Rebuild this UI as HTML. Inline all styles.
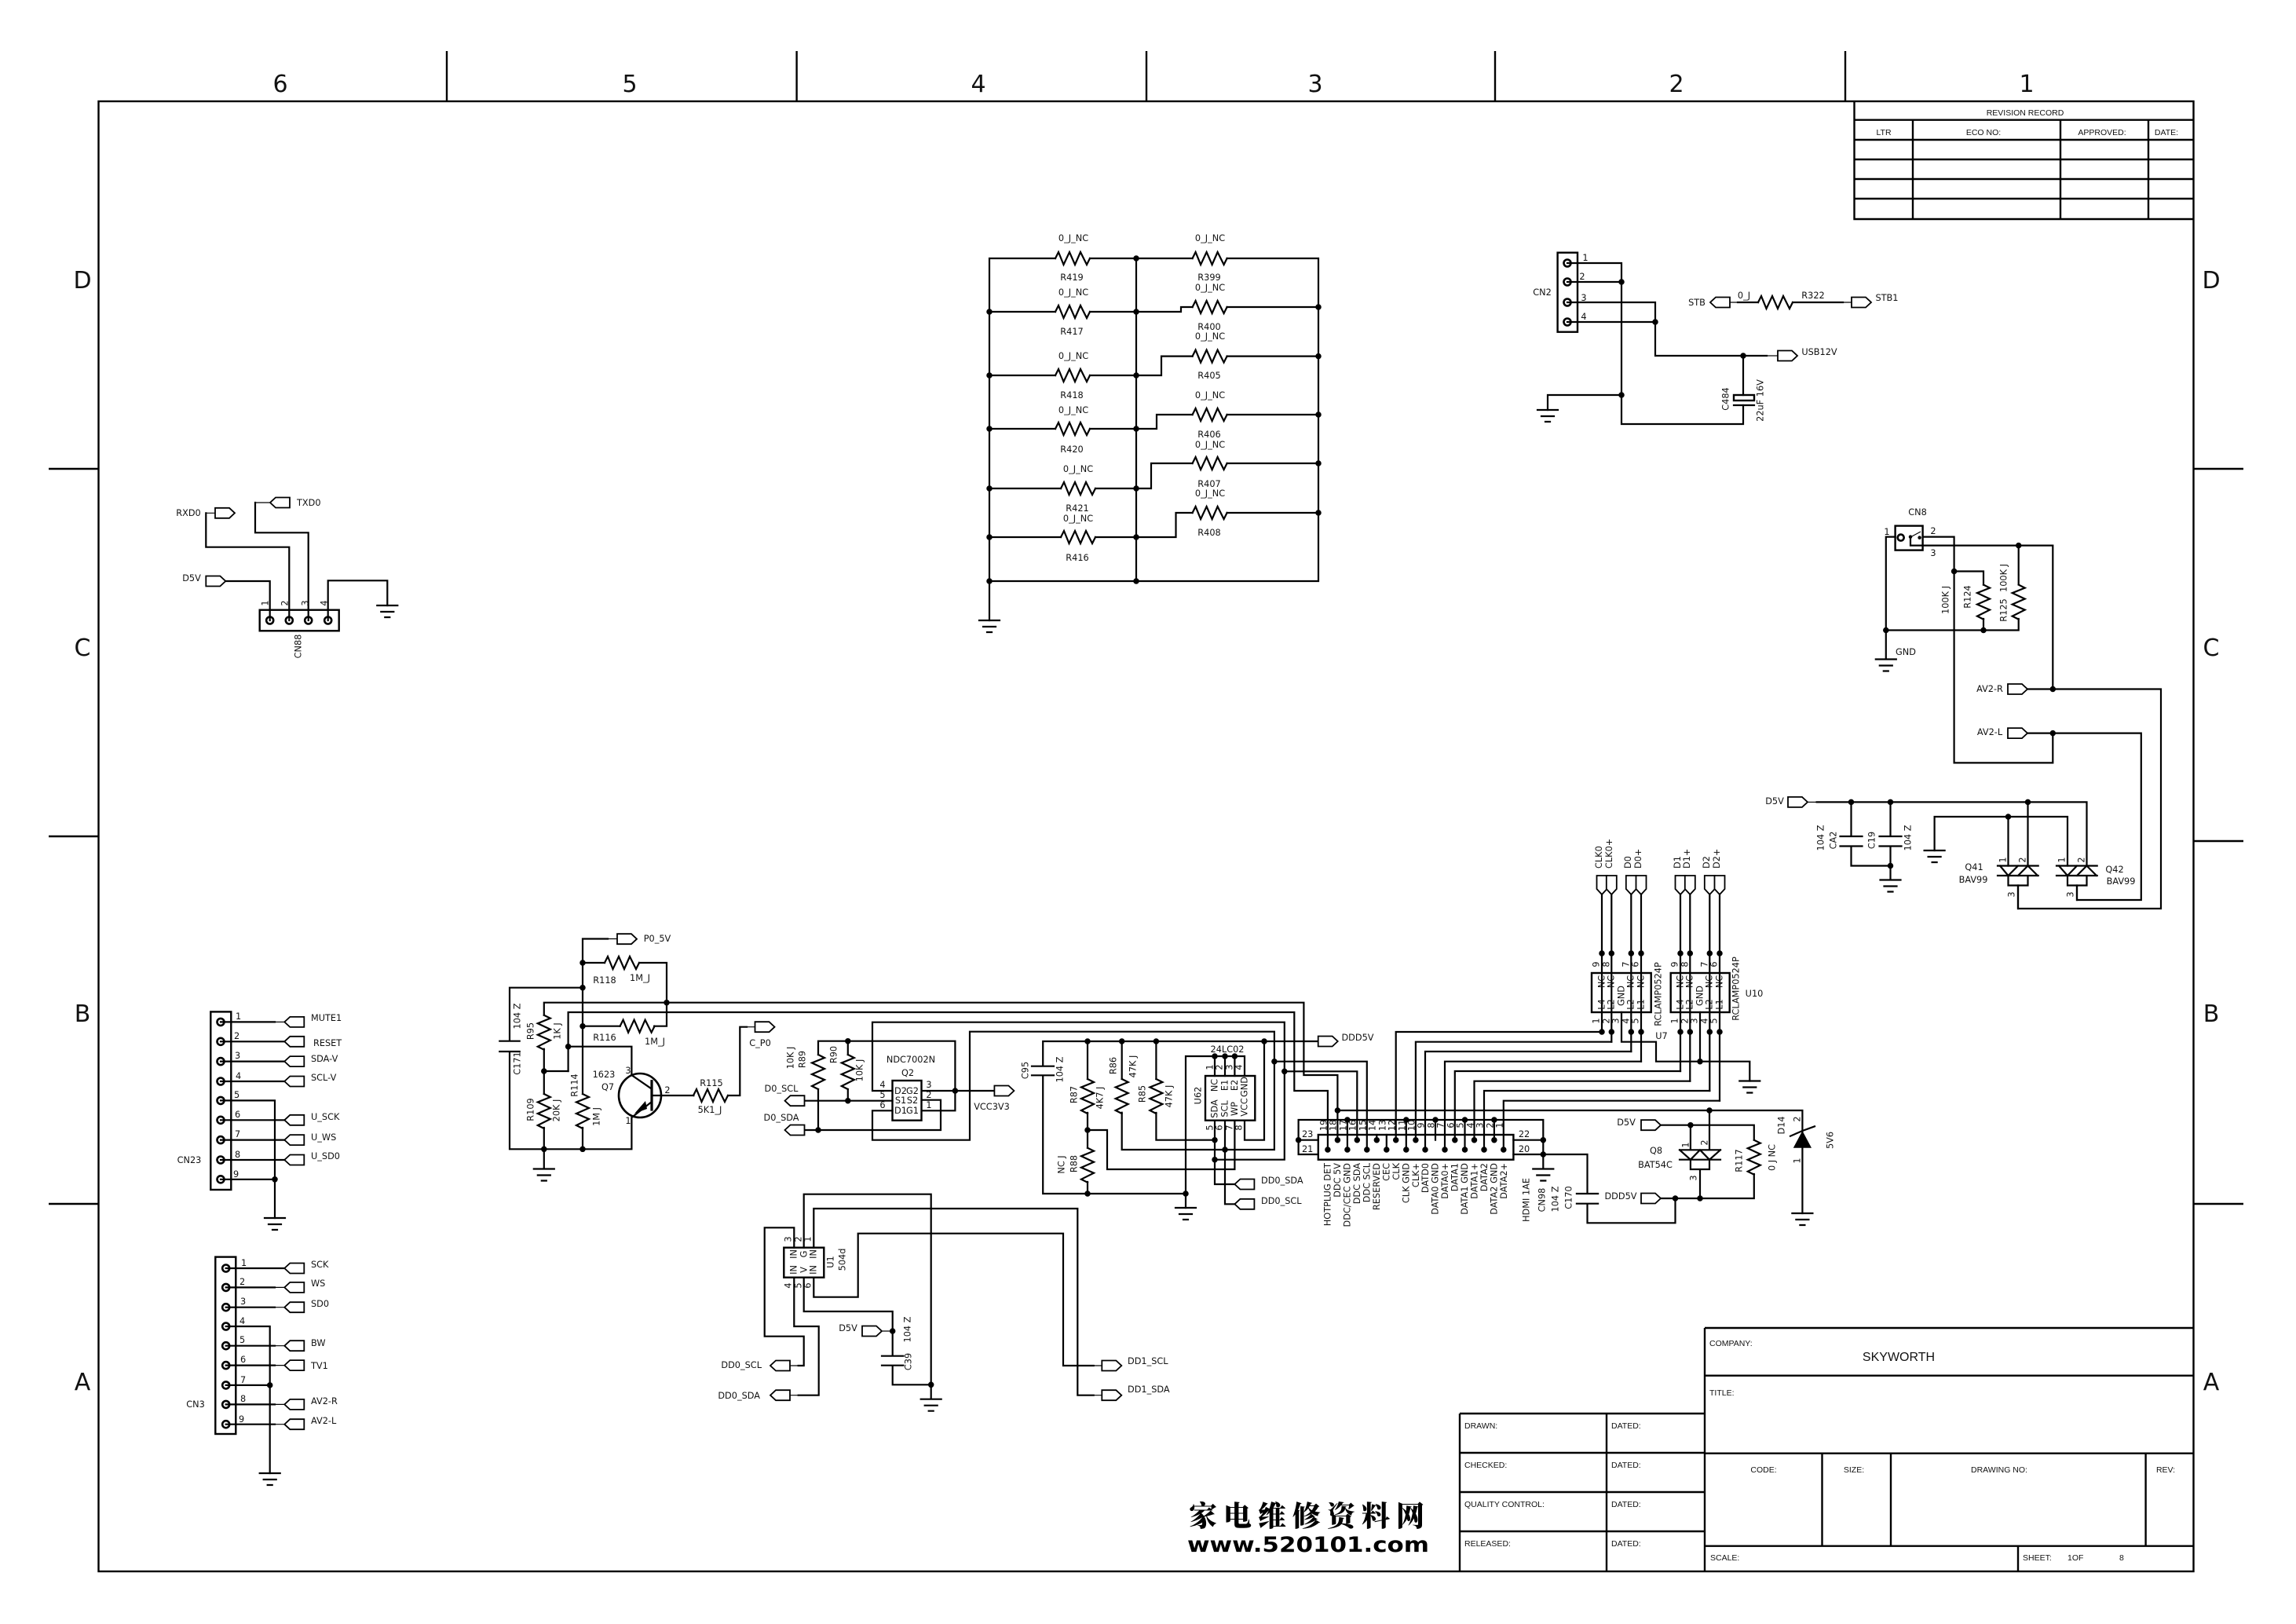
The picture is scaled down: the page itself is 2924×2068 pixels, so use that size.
<!DOCTYPE html>
<html><head><meta charset="utf-8"><title>Schematic</title>
<style>
html,body{margin:0;padding:0;background:#fff}
svg{display:block}
text{font-family:"DejaVu Sans","Liberation Sans",sans-serif;font-size:11.3px;fill:#111}
.m{text-anchor:middle}
.e{text-anchor:end}
.c{text-anchor:middle;dominant-baseline:central}
.w{fill:none;stroke:#000;stroke-width:2.2;stroke-linecap:square}
.t{fill:none;stroke:#000;stroke-width:1.2}
.d{fill:none;stroke:#000;stroke-width:7.5;stroke-linecap:round}
.f{fill:none;stroke:#000;stroke-width:2.4}
.p{fill:#fff;stroke:#000;stroke-width:1.8}
.b{fill:none;stroke:#000;stroke-width:2.4}
.z{font-size:30px}
.l{font-family:"Liberation Sans",sans-serif;font-size:10.5px}
</style></head><body>
<svg xmlns="http://www.w3.org/2000/svg" width="2924" height="2068" viewBox="0 0 2924 2068">
<defs>
<path id="R" class="w" d="M0 0L4 -8L10.5 8L18 -8L25 8L32 -8L40 8L44 0"/>
<path id="G" class="w" d="M-13 0H13M-8 8H8M-3 15H3"/>
<path id="PR" class="p" d="M0 -6.5H18L25 0L18 6.5H0Z"/>
<path id="PL" class="p" d="M25 -6.5H7L0 0L7 6.5H25Z"/>
<path id="PD" class="p" d="M-6.5 0V17L0 24L6.5 17V0Z"/>
<circle id="C" cx="0" cy="0" r="4.5" fill="#fff" stroke="#000" stroke-width="2.6"/>
</defs>
<rect width="2924" height="2068" fill="#fff"/>

<!-- frame -->
<rect x="125.5" y="129" width="2668" height="1872" class="f"/>
<path class="f" d="M569 65V129M1014.6 65V129M1460 65V129M1904 65V129M2350 65V129M62 597H125M62 1065H125M62 1533H125M2794 597H2857M2794 1071H2857M2794 1533H2857"/>
<g class="m">
<text class="z m" x="357" y="117">6</text><text class="z m" x="802" y="117">5</text><text class="z m" x="1246" y="117">4</text><text class="z m" x="1675" y="117">3</text><text class="z m" x="2135" y="117">2</text><text class="z m" x="2581" y="117">1</text>
<text class="z m" x="105" y="367">D</text><text class="z m" x="105" y="835">C</text><text class="z m" x="105" y="1301">B</text><text class="z m" x="105" y="1770">A</text>
<text class="z m" x="2816" y="367">D</text><text class="z m" x="2816" y="835">C</text><text class="z m" x="2816" y="1301">B</text><text class="z m" x="2816" y="1770">A</text>
</g>

<!-- revision table -->
<path class="f" d="M2361.5 129V279H2794M2361.5 152.7H2794M2361.5 178H2794M2361.5 203H2794M2361.5 228H2794M2361.5 253H2794M2436 152.7V279M2624 152.7V279M2736 152.7V279"/>
<text class="l m" x="2579" y="147">REVISION RECORD</text>
<text class="l m" x="2399" y="172">LTR</text><text class="l m" x="2526" y="172">ECO NO:</text><text class="l m" x="2677" y="172">APPROVED:</text><text class="l m" x="2759" y="172">DATE:</text>

<!-- title block -->
<path class="f" d="M2171 1691H2794M2171 1691V2001M2171 1751.7H2794M2171 1850.7H2794M2171 1968.7H2794M2320.5 1850.7V1968.7M2408 1850.7V1968.7M2732.6 1850.7V1968.7M2570 1968.7V2001M1859 1800H2171M1859 1850H2171M1859 1900H2171M1859 1950H2171M1859 1800V2001M2046 1800V2001"/>
<text class="l" x="2177" y="1714">COMPANY:</text>
<text class="m" style="font-family:'Liberation Sans',sans-serif;font-size:16px" x="2418" y="1733">SKYWORTH</text>
<text class="l" x="2177" y="1777">TITLE:</text>
<text class="l m" x="2246" y="1875">CODE:</text><text class="l m" x="2361" y="1875">SIZE:</text><text class="l m" x="2546" y="1875">DRAWING NO:</text><text class="l m" x="2758" y="1875">REV:</text>
<text class="l" x="2178" y="1987">SCALE:</text><text class="l" x="2576" y="1987">SHEET:</text><text class="l" x="2633" y="1987">1OF</text><text class="l" x="2699" y="1987">8</text>
<text class="l" x="1865" y="1819">DRAWN:</text><text class="l" x="1865" y="1869">CHECKED:</text><text class="l" x="1865" y="1919">QUALITY CONTROL:</text><text class="l" x="1865" y="1969">RELEASED:</text>
<text class="l" x="2052" y="1819">DATED:</text><text class="l" x="2052" y="1869">DATED:</text><text class="l" x="2052" y="1919">DATED:</text><text class="l" x="2052" y="1969">DATED:</text>

<!-- watermark -->
<text x="1514" y="1943" textLength="300" lengthAdjust="spacing" style="font-family:'Noto Serif CJK SC',serif;font-size:36px;font-weight:900;fill:#000">家电维修资料网</text>
<text x="1512" y="1976" textLength="308" lengthAdjust="spacingAndGlyphs" style="font-family:'DejaVu Sans',sans-serif;font-size:27px;font-weight:bold;fill:#000">www.520101.com</text>

<!-- resistor block -->
<path class="w" d="M1260 329H1344M1388 329H1518.6M1562.6 329H1679V740H1260M1260 329V790M1447 329V740
M1260 397H1344M1388 397H1447H1504V391H1518.6M1562.6 391H1679
M1260 478H1344M1388 478H1447H1479V453.6H1518.6M1562.6 453.6H1679
M1260 546H1344M1388 546H1447H1473V528H1518.6M1562.6 528H1679
M1260 622H1351M1395 622H1447H1466V590H1518.6M1562.6 590H1679
M1260 684H1351M1395 684H1447H1497.5V653H1518.6M1562.6 653H1679"/>
<use href="#R" x="1344" y="329"/><use href="#R" x="1344" y="397"/><use href="#R" x="1344" y="478"/><use href="#R" x="1344" y="546"/><use href="#R" x="1351" y="622"/><use href="#R" x="1351" y="684"/>
<use href="#R" x="1518.6" y="329"/><use href="#R" x="1518.6" y="391"/><use href="#R" x="1518.6" y="453.6"/><use href="#R" x="1518.6" y="528"/><use href="#R" x="1518.6" y="590"/><use href="#R" x="1518.6" y="653"/>
<path class="d" d="M1447 329h0M1260 397h0M1447 397h0M1260 478h0M1447 478h0M1260 546h0M1447 546h0M1260 622h0M1447 622h0M1260 684h0M1447 684h0M1260 740h0M1447 740h0M1679 391h0M1679 453.6h0M1679 528h0M1679 590h0M1679 653h0"/>
<use href="#G" x="1260" y="790"/>
<g class="lbl">
<text class="m" x="1367" y="307">0_J_NC</text><text class="m" x="1365" y="357">R419</text>
<text class="m" x="1367" y="376">0_J_NC</text><text class="m" x="1365" y="426">R417</text>
<text class="m" x="1367" y="457">0_J_NC</text><text class="m" x="1365" y="507">R418</text>
<text class="m" x="1367" y="526">0_J_NC</text><text class="m" x="1365" y="576">R420</text>
<text class="m" x="1373" y="601">0_J_NC</text><text class="m" x="1372" y="651">R421</text>
<text class="m" x="1373" y="664">0_J_NC</text><text class="m" x="1372" y="714">R416</text>
<text class="m" x="1541" y="307">0_J_NC</text><text class="m" x="1540" y="357">R399</text>
<text class="m" x="1541" y="370">0_J_NC</text><text class="m" x="1540" y="420">R400</text>
<text class="m" x="1541" y="432">0_J_NC</text><text class="m" x="1540" y="482">R405</text>
<text class="m" x="1541" y="507">0_J_NC</text><text class="m" x="1540" y="557">R406</text>
<text class="m" x="1541" y="570">0_J_NC</text><text class="m" x="1540" y="620">R407</text>
<text class="m" x="1541" y="632">0_J_NC</text><text class="m" x="1540" y="682">R408</text>
</g>

<!-- CN2 -->
<rect x="1983.6" y="321.7" width="25.4" height="101" class="b" fill="none"/>
<use href="#C" x="1996" y="335"/><use href="#C" x="1996" y="359"/><use href="#C" x="1996" y="385"/><use href="#C" x="1996" y="410"/>
<path class="w" d="M1996 335H2065V540H2220V516M1996 359H2065M1996 385H2108V453H2250M1996 410H2108M2220 453V503M2065 503H1971V522"/>
<path class="t" d="M2250 453H2264"/>
<use href="#PR" x="2264" y="453"/>
<path class="d" d="M2065 359h0M2108 410h0M2220 453h0M2065 503h0"/>
<rect x="2208" y="503" width="26" height="7" class="b"/>
<path class="w" d="M2208 516H2234"/>
<use href="#G" x="1971" y="522"/>
<text class="m" x="2019" y="332">1</text><text class="m" x="2015" y="356">2</text><text class="m" x="2017" y="383">3</text><text class="m" x="2017" y="407">4</text>
<text class="m" x="1964" y="376">CN2</text>
<text class="c" transform="translate(2198 508) rotate(-90)">C484</text>
<text class="c" transform="translate(2242 510) rotate(-90)">22uF 16V</text>
<text class="m" x="2317" y="452">USB12V</text>
<!-- STB -->
<path class="t" d="M2202 385H2213M2347 385H2358"/>
<path class="w" d="M2213 385H2239M2283 385H2347"/>
<use href="#R" x="2239" y="385"/>
<use href="#PL" x="2178" y="385"/><use href="#PR" x="2358" y="385"/>
<text class="m" x="2161" y="389">STB</text><text class="m" x="2403" y="383">STB1</text><text class="m" x="2221" y="380">0_J</text><text class="m" x="2309" y="380">R322</text>

<!-- CN8 -->
<rect x="2413.6" y="669.6" width="35" height="31" class="b"/>
<circle cx="2420.7" cy="684.6" r="4" fill="#fff" stroke="#000" stroke-width="2.6"/>
<path class="w" d="M2413.6 683.6H2401.8V839M2401.8 802.5H2570.7V788M2570.7 744V694.6M2448.6 683.6H2488.6V971.4H2614.3V933.6M2488.6 727.5H2526V744.6M2526 788V802.5M2433 683.6V694.6H2614.3V877.5M2583 877.5H2752V1157H2570V1127.5M2583 933.6H2726.8V1146H2645V1127.5"/>
<path class="t" d="M2433 684L2446 677"/>
<path class="d" style="stroke-width:4.5" d="M2433 683.6h0M2444.6 684.6h0"/>
<use href="#R" transform="translate(2526 744.6) rotate(90)"/>
<use href="#R" transform="translate(2570.7 744.6) rotate(90)"/>
<path class="d" d="M2401.8 802.5h0M2526 802.5h0M2488.6 727.5h0M2570.7 694.6h0M2614.3 877.5h0M2614.3 933.6h0"/>
<use href="#G" x="2401.8" y="839.5"/>
<use href="#PR" x="2557" y="877.5"/><use href="#PR" x="2557" y="933.6"/>
<text class="m" x="2442" y="656">CN8</text><text class="m" x="2403" y="681">1</text><text class="m" x="2462" y="680">2</text><text class="m" x="2462" y="708">3</text><text class="m" x="2427" y="834">GND</text>
<text class="c" transform="translate(2506 760) rotate(-90)">R124</text>
<text class="c" transform="translate(2478 764) rotate(-90)">100K J</text>
<text class="c" transform="translate(2552 777) rotate(-90)">R125</text>
<text class="c" transform="translate(2552 736) rotate(-90)">100K J</text>
<text class="m" x="2534" y="881">AV2-R</text><text class="m" x="2534" y="936">AV2-L</text>

<!-- 5V / Q41 Q42 -->
<use href="#PR" x="2277" y="1021.4"/>
<path class="t" d="M2302 1021.4H2313.6"/>
<path class="w" d="M2313.6 1021.4H2657.5V1102.5M2582.5 1021.4V1102.5M2357.5 1021.4V1065M2407.5 1021.4V1065M2357.5 1077.5V1102.5H2407.5V1120M2407.5 1077.5V1102.5M2343.5 1065H2371.5M2343.5 1077.5H2371.5M2393.5 1065H2421.5M2393.5 1077.5H2421.5M2463.6 1083V1040H2633V1102.5M2557.5 1040V1102.5"/>
<path class="d" d="M2357.5 1021.4h0M2407.5 1021.4h0M2582.5 1021.4h0M2557.5 1040h0M2407.5 1102.5h0"/>
<use href="#G" x="2407.5" y="1120.5"/><use href="#G" x="2463.6" y="1083"/>
<path class="w" d="M2544 1102.5H2595.7M2544 1115H2595.7M2547 1102.5L2557.5 1115L2570 1102.5M2570 1115L2582.5 1102.5L2595 1115M2557.5 1115V1127.5H2582.5V1115M2570 1127.5V1157
M2619 1102.5H2670.7M2619 1115H2670.7M2622 1102.5L2633 1115L2645 1102.5M2645 1115L2657.5 1102.5L2670 1115M2633 1115V1127.5H2657.5V1115M2645 1127.5V1146"/>
<text class="m" x="2514" y="1108">Q41</text><text class="m" x="2513" y="1124">BAV99</text><text class="m" x="2693" y="1111">Q42</text><text class="m" x="2701" y="1126">BAV99</text>
<text class="c" transform="translate(2551 1095) rotate(-90)">1</text><text class="c" transform="translate(2576 1095) rotate(-90)">2</text><text class="c" transform="translate(2626 1095) rotate(-90)">1</text><text class="c" transform="translate(2651 1095) rotate(-90)">2</text>
<text class="c" transform="translate(2562 1139) rotate(-90)">3</text><text class="c" transform="translate(2637 1139) rotate(-90)">3</text>
<text class="m" x="2260" y="1024">D5V</text>
<text class="c" transform="translate(2335 1070) rotate(-90)">CA2</text><text class="c" transform="translate(2319 1067) rotate(-90)">104 Z</text><text class="c" transform="translate(2384 1070) rotate(-90)">C19</text><text class="c" transform="translate(2430 1067) rotate(-90)">104 Z</text>

<!-- CN88 -->
<rect x="330.7" y="776.7" width="101" height="26.6" class="b"/>
<use href="#C" x="343.7" y="790"/><use href="#C" x="368.3" y="790"/><use href="#C" x="392.7" y="790"/><use href="#C" x="417.7" y="790"/>
<path class="w" d="M287 740H343.7V790M262.3 653.3V696.7H368.3V790M325 640V678.3H392.7V790M417.7 790V739.3H493.3V771"/>
<path class="t" d="M262.3 653.3H274M325 640H344"/>
<use href="#PR" x="262.3" y="740"/><use href="#PR" x="274" y="653.3"/><use href="#PL" x="344" y="640"/>
<use href="#G" x="493.3" y="771"/>
<text class="m" x="240" y="657">RXD0</text><text x="378" y="644">TXD0</text><text class="m" x="244" y="740">D5V</text>
<text class="c" transform="translate(380 823) rotate(-90)">CN88</text>
<text class="c" transform="translate(338 768) rotate(-90)">1</text><text class="c" transform="translate(363 768) rotate(-90)">2</text><text class="c" transform="translate(389 768) rotate(-90)">3</text><text class="c" transform="translate(413 768) rotate(-90)">4</text>

<!-- CN23 -->
<rect x="268.3" y="1288.4" width="26" height="226.6" class="b"/>
<g>
<use href="#C" x="281" y="1301.4"/><use href="#C" x="281" y="1326.3"/><use href="#C" x="281" y="1351.6"/><use href="#C" x="281" y="1377"/><use href="#C" x="281" y="1401.4"/><use href="#C" x="281" y="1426.3"/><use href="#C" x="281" y="1451.6"/><use href="#C" x="281" y="1477"/><use href="#C" x="281" y="1501.8"/>
</g>
<path class="w" d="M281 1301.4H350M281 1326.3H362M281 1351.6H362M281 1377H362M281 1401.4H350V1551M281 1426.3H362M281 1451.6H362M281 1477H362M281 1501.8H350"/>
<path class="t" d="M350 1301.4H362"/>
<use href="#PL" x="362.3" y="1301.4"/><use href="#PL" x="362.3" y="1326.3"/><use href="#PL" x="362.3" y="1351.6"/><use href="#PL" x="362.3" y="1377"/><use href="#PL" x="362.3" y="1426.3"/><use href="#PL" x="362.3" y="1451.6"/><use href="#PL" x="362.3" y="1477"/>
<path class="d" d="M350 1501.8h0"/><use href="#G" x="350" y="1551"/>
<g>
<text x="300" y="1298">1</text><text x="298" y="1323">2</text><text x="299" y="1348">3</text><text x="300" y="1374">4</text><text x="298" y="1398">5</text><text x="299" y="1423">6</text><text x="299" y="1448">7</text><text x="299" y="1474">8</text><text x="297" y="1499">9</text>
<text x="396" y="1300">MUTE1</text><text x="399" y="1332">RESET</text><text x="396" y="1352">SDA-V</text><text x="396" y="1376">SCL-V</text><text x="396" y="1426">U_SCK</text><text x="396" y="1452">U_WS</text><text x="396" y="1476">U_SD0</text>
<text class="m" x="241" y="1481">CN23</text>
</g>

<!-- CN3 -->
<rect x="274.3" y="1600.6" width="26" height="225.4" class="b"/>
<use href="#C" x="287.7" y="1615"/><use href="#C" x="287.7" y="1639.4"/><use href="#C" x="287.7" y="1664.7"/><use href="#C" x="287.7" y="1689"/><use href="#C" x="287.7" y="1713.7"/><use href="#C" x="287.7" y="1738.6"/><use href="#C" x="287.7" y="1763.9"/><use href="#C" x="287.7" y="1788.4"/><use href="#C" x="287.7" y="1813.7"/>
<path class="w" d="M287.7 1615H362M287.7 1639.4H350M287.7 1664.7H350M287.7 1689H343.7V1876M287.7 1713.7H350M287.7 1738.6H350M287.7 1763.9H343.7M287.7 1788.4H350M287.7 1813.7H350"/>
<path class="t" d="M350 1639.4H362M350 1664.7H362M350 1713.7H362M350 1738.6H362M350 1788.4H362M350 1813.7H362"/>
<use href="#PL" x="362.3" y="1615"/><use href="#PL" x="362.3" y="1639.4"/><use href="#PL" x="362.3" y="1664.7"/><use href="#PL" x="362.3" y="1713.7"/><use href="#PL" x="362.3" y="1738.6"/><use href="#PL" x="362.3" y="1788.4"/><use href="#PL" x="362.3" y="1813.7"/>
<path class="d" d="M343.7 1763.9h0"/><use href="#G" x="343.7" y="1876"/>
<text x="307" y="1612">1</text><text x="305" y="1636">2</text><text x="306" y="1661">3</text><text x="305" y="1686">4</text><text x="305" y="1710">5</text><text x="306" y="1735">6</text><text x="306" y="1761">7</text><text x="306" y="1785">8</text><text x="304" y="1811">9</text>
<text x="396" y="1614">SCK</text><text x="396" y="1638">WS</text><text x="396" y="1664">SD0</text><text x="396" y="1714">BW</text><text x="396" y="1743">TV1</text><text x="396" y="1788">AV2-R</text><text x="396" y="1813">AV2-L</text>
<text class="m" x="249" y="1792">CN3</text>

<!-- transistor section -->
<use href="#PR" x="786" y="1195.7"/>
<path class="t" d="M774 1195.5H786M951 1307.7H961.5"/>
<path class="w" d="M774 1195.5H742V1393M742 1436V1463.3M742 1226H770M814 1226H849V1306.7H833M789.6 1306.7H742M742 1257.7H649V1325.7M649 1339V1463.3H804.4V1423L830 1403M692.8 1335.7V1393M692.8 1436V1488M692.8 1364H723.6M723.6 1332.7H804.4V1369L830 1386.7M636.3 1325.7H661.7M636.3 1339H661.7M830 1395H883.4M927 1395H942.3V1307.7H951"/>
<path class="w" style="stroke-width:3.2" d="M830 1376.7V1413"/>
<ellipse cx="815" cy="1395" rx="27" ry="28" fill="none" stroke="#000" stroke-width="2.6"/>
<polygon points="808,1418 822,1402 824,1412" fill="#000"/>
<use href="#R" x="770" y="1226"/><use href="#R" x="789.6" y="1306.7"/><use href="#R" x="883" y="1395"/>
<use href="#R" transform="translate(692.8 1292.7) rotate(90)"/><use href="#R" transform="translate(692.8 1393) rotate(90)"/><use href="#R" transform="translate(742 1393) rotate(90)"/>
<path class="d" d="M742 1226h0M742 1257.7h0M742 1306.7h0M849 1276.7h0M723.6 1332.7h0M692.8 1364h0M692.8 1463.3h0M742 1463.3h0"/>
<use href="#G" x="692.8" y="1488.5"/>
<use href="#PR" x="961.5" y="1307.7"/>
<text class="m" x="837" y="1199">P0_5V</text><text class="m" x="770" y="1252">R118</text><text class="m" x="815" y="1249">1M_J</text><text class="m" x="770" y="1325">R116</text><text class="m" x="834" y="1330">1M_J</text><text class="m" x="968" y="1332">C_P0</text><text class="m" x="906" y="1383">R115</text><text class="m" x="904" y="1417">5K1_J</text><text class="m" x="769" y="1372">1623</text><text class="m" x="774" y="1388">Q7</text><text class="m" x="800" y="1367">3</text><text class="m" x="800" y="1431">1</text><text class="m" x="850" y="1392">2</text>
<text class="c" transform="translate(676 1313) rotate(-90)">R95</text><text class="c" transform="translate(710 1313) rotate(-90)">1K J</text><text class="c" transform="translate(659 1354) rotate(-90)">C171</text><text class="c" transform="translate(659 1294) rotate(-90)">104 Z</text><text class="c" transform="translate(676 1413) rotate(-90)">R109</text><text class="c" transform="translate(709 1414) rotate(-90)">20K J</text><text class="c" transform="translate(732 1382) rotate(-90)">R114</text><text class="c" transform="translate(760 1422) rotate(-90)">1M J</text>

<!-- buses -->
<path class="w" d="M692.8 1292.7V1276.7H1660.4V1369H1703.4V1451.7M723.6 1364V1289H1648.3V1389H1690.9V1464M1111 1389V1301.7H1635.8V1476.7H1547M1111 1389H1136.5M1136.5 1414.3H1111V1451.7H1235V1313.7H1622.9V1464H1428.7V1416.7"/>

<!-- Q2 -->
<rect x="1136.5" y="1376" width="37" height="50.7" class="b"/>
<path class="w" d="M1042 1343V1325.7H1216.4V1414.3H1173.6M1042 1387V1439M1079.8 1325.7V1343M1079.8 1387V1401.7M1024 1401.7H1136.5M1024 1439H1198V1400.7H1173.6M1173.6 1389H1266"/>
<use href="#R" transform="translate(1042 1343) rotate(90)"/><use href="#R" transform="translate(1079.8 1343) rotate(90)"/>
<path class="d" d="M1079.8 1325.7h0M1079.8 1401.7h0M1042 1439h0M1216.4 1389h0"/>
<use href="#PL" x="999.5" y="1401.7"/><use href="#PL" x="999.5" y="1439"/><use href="#PR" x="1266.4" y="1389"/>
<text class="m" x="1160" y="1353">NDC7002N</text><text class="m" x="1156" y="1370">Q2</text><text class="m" x="995" y="1390">D0_SCL</text><text class="m" x="995" y="1427">D0_SDA</text><text class="m" x="1263" y="1413">VCC3V3</text>
<text class="m" x="1147" y="1393">D2</text><text class="m" x="1162" y="1393">G2</text><text class="m" x="1147" y="1405">S1</text><text class="m" x="1162" y="1405">S2</text><text class="m" x="1147" y="1418">D1</text><text class="m" x="1162" y="1418">G1</text>
<text class="m" x="1124" y="1385">4</text><text class="m" x="1124" y="1398">5</text><text class="m" x="1124" y="1411">6</text><text class="m" x="1183" y="1385">3</text><text class="m" x="1183" y="1398">2</text><text class="m" x="1183" y="1411">1</text>
<text class="c" transform="translate(1022 1349) rotate(-90)">R89</text><text class="c" transform="translate(1007 1347) rotate(-90)">10K J</text><text class="c" transform="translate(1062 1343) rotate(-90)">R90</text><text class="c" transform="translate(1095 1363) rotate(-90)">10K J</text>

<!-- EEPROM section -->
<path class="w" d="M1328.2 1326H1678.7M1328.2 1326V1357.7M1314 1357.7H1342M1314 1369.3H1342M1328.2 1369.3V1520H1510M1385 1326V1374M1385 1417V1461.7M1385 1505V1520M1428.7 1326V1374M1472.4 1326V1374M1472.4 1417V1451.7H1547M1610 1326V1451.7H1585V1426.7M1385 1439H1410V1489H1572.4V1426.7M1510 1345V1538M1510 1345H1585V1370M1547 1345V1370M1560 1345V1370M1572.4 1345V1370M1547 1426.7V1508H1572.4M1560 1426.7V1533.3H1572.4"/>
<rect x="1535" y="1370" width="63.3" height="56.7" class="b"/>
<use href="#R" transform="translate(1385 1374) rotate(90)"/><use href="#R" transform="translate(1385 1461.7) rotate(90)"/><use href="#R" transform="translate(1428.7 1374) rotate(90)"/><use href="#R" transform="translate(1472.4 1374) rotate(90)"/>
<path class="d" d="M1385 1326h0M1428.7 1326h0M1472.4 1326h0M1610 1326h0M1385 1439h0M1385 1520h0M1510 1520h0M1547 1345h0M1560 1345h0M1572.4 1345h0M1547 1451.7h0M1547 1476.7h0M1560 1464h0M1622.9 1351.7h0M1635.8 1364.3h0"/>
<use href="#G" x="1510" y="1538"/>
<use href="#PR" x="1678.7" y="1326"/><use href="#PL" x="1572.4" y="1508"/><use href="#PL" x="1572.4" y="1533.3"/>
<text class="m" x="1729" y="1325">DDD5V</text><text x="1606" y="1507">DD0_SDA</text><text x="1606" y="1533">DD0_SCL</text><text class="m" x="1563" y="1340">24LC02</text>
<text class="c" transform="translate(1526 1395) rotate(-90)">U62</text>
<text class="c" transform="translate(1547 1382) rotate(-90)">NC</text><text class="c" transform="translate(1560 1382) rotate(-90)">E1</text><text class="c" transform="translate(1572.4 1382) rotate(-90)">E2</text><text class="c" transform="translate(1585 1384) rotate(-90)">GND</text>
<text class="c" transform="translate(1547 1412) rotate(-90)">SDA</text><text class="c" transform="translate(1560 1412) rotate(-90)">SCL</text><text class="c" transform="translate(1572.4 1412) rotate(-90)">WP</text><text class="c" transform="translate(1585 1410) rotate(-90)">VCC</text>
<text class="c" transform="translate(1541 1359) rotate(-90)">1</text><text class="c" transform="translate(1553 1359) rotate(-90)">2</text><text class="c" transform="translate(1566 1359) rotate(-90)">3</text><text class="c" transform="translate(1578 1359) rotate(-90)">4</text>
<text class="c" transform="translate(1541 1436) rotate(-90)">5</text><text class="c" transform="translate(1553 1436) rotate(-90)">6</text><text class="c" transform="translate(1566 1436) rotate(-90)">7</text><text class="c" transform="translate(1578 1436) rotate(-90)">8</text>
<text class="c" transform="translate(1368 1394) rotate(-90)">R87</text><text class="c" transform="translate(1401 1398) rotate(-90)">4K7 J</text><text class="c" transform="translate(1418 1357) rotate(-90)">R86</text><text class="c" transform="translate(1443 1358) rotate(-90)">47K J</text><text class="c" transform="translate(1455 1393) rotate(-90)">R85</text><text class="c" transform="translate(1489 1396) rotate(-90)">47K J</text><text class="c" transform="translate(1352 1483) rotate(-90)">NC J</text><text class="c" transform="translate(1368 1482) rotate(-90)">R88</text><text class="c" transform="translate(1306 1363) rotate(-90)">C95</text><text class="c" transform="translate(1350 1362) rotate(-90)">104 Z</text>

<!-- HDMI connector -->
<rect x="1678.8" y="1445" width="248.6" height="31.7" class="b"/>
<path class="w" d="M1653.6 1451.7V1426H1965.3V1488M1653.6 1451.7V1470H1678.8M1653.6 1451.7H1678.8M1927.4 1451.7H1965.3M1927.4 1470H2021.5V1520M2007.9 1520H2035.1M2007.9 1532.7H2035.1M2021.5 1532.7V1557.3H2133.5V1526
M1703.4 1414H2295.4V1545
M1715.9 1426V1464M1790.8 1426V1464M1828 1426V1451.7M1865.5 1426V1464M1902.9 1426V1451.7
M1728.3 1451.7V1364.3H1635.8M1740.8 1464V1351.7H1622.9
M1753.3 1445V1451.7M1765.8 1445V1464
M1777.7 1451.7V1314H2040M1802.9 1451.7V1326.7H2052.3M1815 1464V1339H2077.3M1840 1464V1351.7H2090M1852.8 1451.7V1364H2140M1877.5 1451.7V1376.7H2152.3M1890 1464V1389H2177.3M1914.8 1464V1401.7H2190"/>
<path class="d" d="M1690.9 1464h0M1703.4 1451.7h0M1715.9 1464h0M1728.3 1451.7h0M1740.8 1464h0M1753.3 1451.7h0M1765.8 1464h0M1777.7 1451.7h0M1790.8 1464h0M1802.9 1451.7h0M1815 1464h0M1840 1464h0M1852.8 1451.7h0M1865.5 1464h0M1877.5 1451.7h0M1890 1464h0M1902.9 1451.7h0M1914.8 1464h0
M1703.4 1414h0M1715.9 1426h0M1790.8 1426h0M1828 1426h0M1865.5 1426h0M1902.9 1426h0M1653.6 1451.7h0M1965.3 1451.7h0M1965.3 1470h0M2177 1414h0M2152.9 1432.7h0M2133.5 1526h0M2165 1526h0"/>
<use href="#G" x="1965.3" y="1488.5"/>
<text x="1658" y="1448">23</text><text x="1658" y="1467">21</text><text class="m" x="1941" y="1448">22</text><text class="m" x="1941" y="1467">20</text>
<g>
<text class="c" transform="translate(1686 1433) rotate(-90)">19</text><text class="c" transform="translate(1698 1433) rotate(-90)">18</text><text class="c" transform="translate(1711 1433) rotate(-90)">17</text><text class="c" transform="translate(1723 1433) rotate(-90)">16</text><text class="c" transform="translate(1736 1433) rotate(-90)">15</text><text class="c" transform="translate(1748 1433) rotate(-90)">14</text><text class="c" transform="translate(1761 1433) rotate(-90)">13</text><text class="c" transform="translate(1773 1433) rotate(-90)">12</text><text class="c" transform="translate(1786 1433) rotate(-90)">11</text><text class="c" transform="translate(1798 1433) rotate(-90)">10</text><text class="c" transform="translate(1810 1433) rotate(-90)">9</text><text class="c" transform="translate(1823 1433) rotate(-90)">8</text><text class="c" transform="translate(1835 1433) rotate(-90)">7</text><text class="c" transform="translate(1848 1433) rotate(-90)">6</text><text class="c" transform="translate(1860 1433) rotate(-90)">5</text><text class="c" transform="translate(1873 1433) rotate(-90)">4</text><text class="c" transform="translate(1885 1433) rotate(-90)">3</text><text class="c" transform="translate(1898 1433) rotate(-90)">2</text><text class="c" transform="translate(1910 1433) rotate(-90)">1</text>
</g>
<g>
<text class="e" transform="translate(1694.5 1481) rotate(-90)">HOTPLUG DET</text><text class="e" transform="translate(1707 1481) rotate(-90)">DDC 5V</text><text class="e" transform="translate(1719.5 1481) rotate(-90)">DDC/CEC GND</text><text class="e" transform="translate(1732 1481) rotate(-90)">DDC SDA</text><text class="e" transform="translate(1744.5 1481) rotate(-90)">DDC SCL</text><text class="e" transform="translate(1757 1481) rotate(-90)">RESERVED</text><text class="e" transform="translate(1769.5 1481) rotate(-90)">CEC</text><text class="e" transform="translate(1782 1481) rotate(-90)">CLK</text><text class="e" transform="translate(1794.5 1481) rotate(-90)">CLK GND</text><text class="e" transform="translate(1807 1481) rotate(-90)">CLK+</text><text class="e" transform="translate(1819 1481) rotate(-90)">DATD0</text><text class="e" transform="translate(1831.5 1481) rotate(-90)">DATA0 GND</text><text class="e" transform="translate(1844 1481) rotate(-90)">DATA0+</text><text class="e" transform="translate(1856.5 1481) rotate(-90)">DATA1</text><text class="e" transform="translate(1869 1481) rotate(-90)">DATA1 GND</text><text class="e" transform="translate(1881.5 1481) rotate(-90)">DATA1+</text><text class="e" transform="translate(1894 1481) rotate(-90)">DATA2</text><text class="e" transform="translate(1906.5 1481) rotate(-90)">DATA2 GND</text><text class="e" transform="translate(1919 1481) rotate(-90)">DATA2+</text>
</g>
<text class="c" transform="translate(1944 1528) rotate(-90)">HDMI 1AE</text><text class="c" transform="translate(1964 1528) rotate(-90)">CN98</text><text class="c" transform="translate(1981 1527) rotate(-90)">104 Z</text><text class="c" transform="translate(1998 1525) rotate(-90)">C170</text>

<!-- Q8 / D14 -->
<use href="#PR" x="2090" y="1432.7"/><use href="#PR" x="2090" y="1526"/>
<path class="w" d="M2115 1432.7H2233.8V1451.7M2233.8 1495V1526H2115M2152.9 1432.7V1464.3M2177 1414V1464.3M2165 1489V1526M2139 1476.7H2191M2139 1464.3H2191M2139 1464.3L2152.9 1476.7L2165 1464.3L2177 1476.7L2191 1464.3M2152.9 1476.7V1489H2177V1476.7"/>
<use href="#R" transform="translate(2233.8 1451.7) rotate(90)"/>
<polygon points="2295.4,1440 2283.8,1461.7 2307,1461.7" fill="#000"/>
<path class="w" d="M2280 1446.7L2295.4 1440L2311 1434.3"/>
<use href="#G" x="2295.4" y="1545"/>
<text class="m" x="2071" y="1433">D5V</text><text class="m" x="2064" y="1527">DDD5V</text><text class="m" x="2109" y="1469">Q8</text><text class="m" x="2108" y="1487">BAT54C</text>
<text class="c" transform="translate(2215 1478) rotate(-90)">R117</text><text class="c" transform="translate(2257 1474) rotate(-90)">0 J NC</text><text class="c" transform="translate(2147 1458) rotate(-90)">1</text><text class="c" transform="translate(2171 1455) rotate(-90)">2</text><text class="c" transform="translate(2157 1500) rotate(-90)">3</text><text class="c" transform="translate(2269 1433) rotate(-90)">D14</text><text class="c" transform="translate(2289 1425) rotate(-90)">2</text><text class="c" transform="translate(2331 1452) rotate(-90)">5V6</text><text class="c" transform="translate(2289 1478) rotate(-90)">1</text>

<!-- U7 / U10 -->
<rect x="2027" y="1239" width="75.7" height="50" class="b"/><rect x="2127.7" y="1239" width="75" height="50" class="b"/>
<use href="#PD" x="2040" y="1115"/><use href="#PD" x="2052.3" y="1115"/><use href="#PD" x="2077.3" y="1115"/><use href="#PD" x="2090" y="1115"/><use href="#PD" x="2140" y="1115"/><use href="#PD" x="2152.3" y="1115"/><use href="#PD" x="2177.3" y="1115"/><use href="#PD" x="2190" y="1115"/>
<path class="w" d="M2040 1139V1314M2052.3 1139V1326.7M2077.3 1139V1339M2090 1139V1351.7M2140 1139V1364M2152.3 1139V1376.7M2177.3 1139V1389M2190 1139V1401.7M2065 1289V1326.7H2109V1351.7H2228.3V1376.5M2165 1289V1351.7"/>
<path class="d" d="M2040 1214h0M2052.3 1214h0M2077.3 1214h0M2090 1214h0M2140 1214h0M2152.3 1214h0M2177.3 1214h0M2190 1214h0M2040 1314h0M2052.3 1314h0M2077.3 1314h0M2090 1314h0M2140 1314h0M2152.3 1314h0M2177.3 1314h0M2190 1314h0M2165 1351.7h0"/>
<use href="#G" x="2228.3" y="1376.5"/>
<text class="m" x="2116" y="1323">U7</text><text class="m" x="2234" y="1269">U10</text>
<text class="c" transform="translate(2112 1266) rotate(-90)">RCLAMP0524P</text><text class="c" transform="translate(2211 1259) rotate(-90)">RCLAMP0524P</text>
<g>
<text transform="translate(2040 1106) rotate(-90)">CLK0</text><text transform="translate(2053 1106) rotate(-90)">CLK0+</text><text transform="translate(2077 1106) rotate(-90)">D0</text><text transform="translate(2090 1106) rotate(-90)">D0+</text><text transform="translate(2140 1106) rotate(-90)">D1</text><text transform="translate(2152 1106) rotate(-90)">D1+</text><text transform="translate(2177 1106) rotate(-90)">D2</text><text transform="translate(2190 1106) rotate(-90)">D2+</text>
</g>
<g>
<text class="c" transform="translate(2033 1228) rotate(-90)">9</text><text class="c" transform="translate(2046 1228) rotate(-90)">8</text><text class="c" transform="translate(2071 1228) rotate(-90)">7</text><text class="c" transform="translate(2083 1228) rotate(-90)">6</text>
<text class="c" transform="translate(2133 1228) rotate(-90)">9</text><text class="c" transform="translate(2146 1228) rotate(-90)">8</text><text class="c" transform="translate(2171 1228) rotate(-90)">7</text><text class="c" transform="translate(2183 1228) rotate(-90)">6</text>
<text class="c" transform="translate(2033 1300) rotate(-90)">1</text><text class="c" transform="translate(2046 1300) rotate(-90)">2</text><text class="c" transform="translate(2058 1300) rotate(-90)">3</text><text class="c" transform="translate(2071 1300) rotate(-90)">4</text><text class="c" transform="translate(2083 1300) rotate(-90)">5</text>
<text class="c" transform="translate(2133 1300) rotate(-90)">1</text><text class="c" transform="translate(2146 1300) rotate(-90)">2</text><text class="c" transform="translate(2158 1300) rotate(-90)">3</text><text class="c" transform="translate(2171 1300) rotate(-90)">4</text><text class="c" transform="translate(2183 1300) rotate(-90)">5</text>
<text class="c" transform="translate(2040 1250) rotate(-90)">NC</text><text class="c" transform="translate(2052 1250) rotate(-90)">NC</text><text class="c" transform="translate(2077 1250) rotate(-90)">NC</text><text class="c" transform="translate(2090 1250) rotate(-90)">NC</text>
<text class="c" transform="translate(2140 1250) rotate(-90)">NC</text><text class="c" transform="translate(2152 1250) rotate(-90)">NC</text><text class="c" transform="translate(2177 1250) rotate(-90)">NC</text><text class="c" transform="translate(2190 1250) rotate(-90)">NC</text>
<text class="c" transform="translate(2040 1279) rotate(-90)">L4</text><text class="c" transform="translate(2052 1279) rotate(-90)">L2</text><text class="c" transform="translate(2077 1279) rotate(-90)">L2</text><text class="c" transform="translate(2090 1279) rotate(-90)">L1</text>
<text class="c" transform="translate(2140 1279) rotate(-90)">L4</text><text class="c" transform="translate(2152 1279) rotate(-90)">L2</text><text class="c" transform="translate(2177 1279) rotate(-90)">L2</text><text class="c" transform="translate(2190 1279) rotate(-90)">L1</text>
<text class="c" transform="translate(2065 1268) rotate(-90)">GND</text><text class="c" transform="translate(2165 1268) rotate(-90)">GND</text>
</g>

<!-- U1 -->
<rect x="998.3" y="1588.7" width="51" height="38" class="b"/>
<path class="w" d="M1023.7 1588.7V1520.7H1185.7V1781M1036.3 1588.7V1539H1372.3V1776.7H1392.7M1011.3 1588.7V1563.3H973.7V1701.7H1023.7V1739H1016.7M1011.3 1626.7V1689H1042.7V1776.7H1016.7M1023.7 1626.7V1670H1136.7V1726.7M1136.7 1738.7V1763.3H1185.7M1036.3 1626.7V1651.7H1092.7V1570.7H1354V1739H1392.7M1123 1726.7H1150.4M1123 1738.7H1150.4"/>
<path class="t" d="M1006 1739H1016.7M1006 1776.7H1016.7M1392.7 1739H1403.3M1392.7 1776.7H1403.3M1123.7 1695H1136.7"/>
<path class="d" d="M1136.7 1695h0M1185.7 1763.3h0"/>
<use href="#G" x="1185.7" y="1781.7"/>
<use href="#PL" x="981" y="1739"/><use href="#PL" x="981" y="1776.7"/><use href="#PR" x="1403.3" y="1739"/><use href="#PR" x="1403.3" y="1776.7"/><use href="#PR" x="1098" y="1695"/>
<text class="m" x="1080" y="1695">D5V</text><text class="e" x="970" y="1742">DD0_SCL</text><text class="e" x="968" y="1781">DD0_SDA</text><text x="1436" y="1737">DD1_SCL</text><text x="1436" y="1773">DD1_SDA</text>
<text class="c" transform="translate(1156 1693) rotate(-90)">104 Z</text><text class="c" transform="translate(1157 1734) rotate(-90)">C39</text><text class="c" transform="translate(1058 1607) rotate(-90)">U1</text><text class="c" transform="translate(1073 1604) rotate(-90)">504d</text>
<text class="c" transform="translate(1004 1578) rotate(-90)">3</text><text class="c" transform="translate(1017 1578) rotate(-90)">2</text><text class="c" transform="translate(1029 1578) rotate(-90)">1</text><text class="c" transform="translate(1004 1637) rotate(-90)">4</text><text class="c" transform="translate(1017 1637) rotate(-90)">5</text><text class="c" transform="translate(1029 1637) rotate(-90)">6</text>
<text class="c" transform="translate(1011 1597) rotate(-90)">IN</text><text class="c" transform="translate(1024 1597) rotate(-90)">G</text><text class="c" transform="translate(1036 1597) rotate(-90)">IN</text><text class="c" transform="translate(1011 1617) rotate(-90)">IN</text><text class="c" transform="translate(1024 1617) rotate(-90)">V</text><text class="c" transform="translate(1036 1617) rotate(-90)">IN</text>
</svg>
</body></html>
